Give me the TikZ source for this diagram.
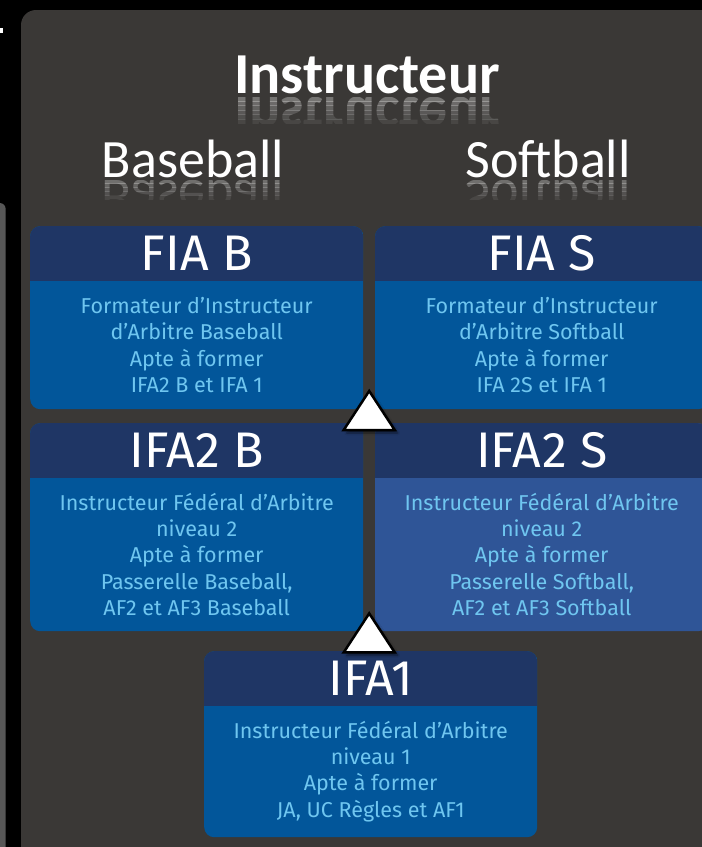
\documentclass[tikz,border=0pt]{standalone}
\usepackage{fontspec}
\setmainfont{Fira Sans}
\newfontfamily\titlefont{Carlito}
\usepackage{graphicx}
\usetikzlibrary{calc, shadows.blur}

\definecolor{panel}{HTML}{3A3836}
\definecolor{strip}{HTML}{575757}
\definecolor{navy}{HTML}{1F3665}
\definecolor{blueb}{HTML}{02569A}
\definecolor{blues}{HTML}{2F5597}
\definecolor{lightb}{HTML}{6FC6F0}

\tikzstyle{box}=[rectangle, rounded corners=10pt, minimum width=333pt, inner sep=0pt, anchor=north west,
  path picture={\fill[navy, sharp corners] (path picture bounding box.north west) rectangle ([yshift=-54.5pt]path picture bounding box.north east);}]
\tikzstyle{head}=[inner sep=0pt, text=white, font=\fontsize{50}{50}\selectfont]
\tikzstyle{desc}=[inner sep=0pt, text=lightb, align=center, font=\fontsize{21.5}{26.2}\selectfont]
\tikzstyle{title}=[inner sep=0pt, text=white, anchor=base, font=\titlefont\bfseries\fontsize{58}{58}\selectfont]
\tikzstyle{sport}=[inner sep=0pt, text=white, anchor=base, font=\titlefont\fontsize{54}{54}\selectfont]
\tikzstyle{tri}=[fill=white, draw=black, line width=2.5pt, line join=miter,
  blur shadow={shadow xshift=3pt, shadow yshift=-3pt, shadow opacity=50, shadow blur steps=6}]

\begin{document}
\begin{tikzpicture}[x=1pt, y=-1pt]

 % background
 \fill[black] (0,0) rectangle (702,847);
 \useasboundingbox (0,0) rectangle (702,847);
 \fill[strip, rounded corners=6pt] (-10,203) rectangle (5.7,870);
 \fill[white] (0,28) rectangle (2.5,33);
 \fill[panel, rounded corners=15pt] (21,10) rectangle (730,880);

 % titles
 \node[title] (instr) at (367,93) {Instructeur};
 \node[sport] (base) at (193,177) {Baseball};
 \node[sport] (soft) at (548,177) {Softball};
 \foreach \k [evaluate=\k as \op using 0.3-0.045*\k] in {0,...,5}{
   \begin{scope}
     \clip (200,97+4.4*\k) rectangle (540,101.4+4.4*\k);
     \node[title, opacity=\op] (instr-r\k) at (367,97) {\scalebox{1}[-1]{Instructeur}};
   \end{scope}
 }
 \foreach \x/\w/\n in {193/Baseball/base, 548/Softball/soft}{
   \foreach \k [evaluate=\k as \op using 0.28-0.05*\k] in {0,...,4}{
     \begin{scope}
       \clip (\x-120,180+3.8*\k) rectangle (\x+120,183.8+3.8*\k);
       \node[sport, opacity=\op] (\n-r\k) at (\x,180) {\scalebox{1}[-1]{\w}};
     \end{scope}
   }
 }

 % FIA
 \node[box, minimum height=183pt, fill=blueb] (fiab) at (30,226) {};
 \node[head] (fiab-t) at ([yshift=-27.25pt]fiab.north) {FIA B};
 \node[desc] (fiab-d) at ($([yshift=-54.5pt]fiab.north)!0.5!(fiab.south)$)
   {Formateur d’Instructeur\\d’Arbitre Baseball\\Apte à former\\IFA2 B et IFA 1};
 \node[box, minimum height=183pt, fill=blueb] (fias) at (375,226) {};
 \node[head] (fias-t) at ([yshift=-27.25pt]fias.north) {FIA S};
 \node[desc] (fias-d) at ($([yshift=-54.5pt]fias.north)!0.5!(fias.south)$)
   {Formateur d’Instructeur\\d’Arbitre Softball\\Apte à former\\IFA 2S et IFA 1};

 % IFA2
 \node[box, minimum height=208pt, fill=blueb] (ifa2b) at (30,423) {};
 \node[head] (ifa2b-t) at ([yshift=-27.25pt]ifa2b.north) {IFA2 B};
 \node[desc] (ifa2b-d) at ($([yshift=-54.5pt]ifa2b.north)!0.5!(ifa2b.south)$)
   {Instructeur Fédéral d’Arbitre\\niveau 2\\Apte à former\\Passerelle Baseball,\\AF2 et AF3 Baseball};
 \node[box, minimum height=208pt, fill=blues] (ifa2s) at (375,423) {};
 \node[head] (ifa2s-t) at ([yshift=-27.25pt]ifa2s.north) {IFA2 S};
 \node[desc] (ifa2s-d) at ($([yshift=-54.5pt]ifa2s.north)!0.5!(ifa2s.south)$)
   {Instructeur Fédéral d’Arbitre\\niveau 2\\Apte à former\\Passerelle Softball,\\AF2 et AF3 Softball};

 % IFA1
 \node[box, minimum height=186pt, fill=blueb] (ifa1) at (204,651) {};
 \node[head] (ifa1-t) at ([yshift=-27.25pt]ifa1.north) {IFA1};
 \node[desc] (ifa1-d) at ($([yshift=-54.5pt]ifa1.north)!0.5!(ifa1.south)$)
   {Instructeur Fédéral d’Arbitre\\niveau 1\\Apte à former\\JA, UC Règles et AF1};

 % arrows
 \coordinate (up1) at ($(ifa2b.north east)!0.5!(ifa2s.north west)+(0,7)$);
 \coordinate (up2) at ($(ifa2b.south east)!0.5!(ifa2s.south west)+(0,21)$);
 \foreach \a in {up1, up2}
   \draw[tri] ($(\a)+(-25.5,0)$) -- ($(\a)+(0,-39)$) -- ($(\a)+(25.5,0)$) -- cycle;

\end{tikzpicture}
\end{document}
